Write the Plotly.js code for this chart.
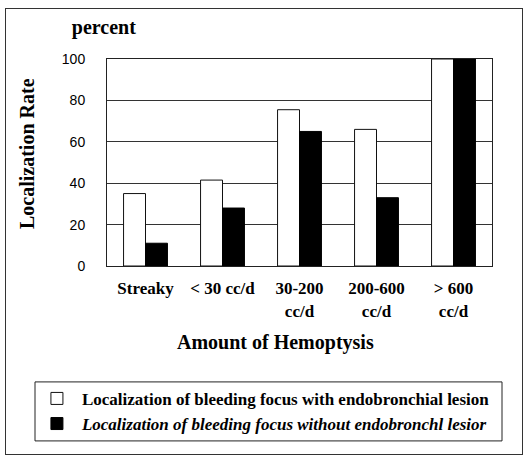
<!DOCTYPE html>
<html>
<head>
<meta charset="utf-8">
<script src="https://cdn.plot.ly/plotly-3.0.1.min.js"></script>
<style>
html,body{margin:0;padding:0;background:#fff;}
#wrap{position:relative;width:528px;height:458px;}
#chart{width:528px;height:458px;}
#frame{position:absolute;left:5px;top:8px;width:516px;height:445px;border:1px solid #333;pointer-events:none;}
</style>
</head>
<body>
<div id="wrap"><div id="chart"></div><div id="frame"></div></div>
<script>
const categories = ["Streaky", "< 30 cc/d", "30-200<br>cc/d", "200-600<br>cc/d", "> 600<br>cc/d"];
const withLesion = [35, 41.5, 75.5, 66, 100];
const withoutLesion = [11, 28, 65, 33, 100];
const seriesNames = [
  "Localization of bleeding focus with endobronchial lesion",
  "<i>Localization of bleeding focus without endobronchl lesior</i>"
];
const yTicks = [0, 20, 40, 60, 80, 100];

const serif = "'Liberation Serif', 'Times New Roman', serif";
const sans = "'Liberation Sans', Arial, sans-serif";

const traces = [
  {type: "bar", x: categories, y: withLesion, name: seriesNames[0],
   marker: {color: "#ffffff", line: {color: "#111", width: 1}}},
  {type: "bar", x: categories, y: withoutLesion, name: seriesNames[1],
   marker: {color: "#000000", line: {color: "#000", width: 1}}}
];

const layout = {
  width: 528, height: 458,
  margin: {l: 107, r: 36, t: 59, b: 192},
  paper_bgcolor: "#fff", plot_bgcolor: "#fff",
  barmode: "group", bargap: 0.43, bargroupgap: 0,
  showlegend: true,
  title: {text: "<b>percent</b>", x: 0.136, xanchor: "left", y: 0.942, yanchor: "middle",
          font: {family: serif, size: 20, color: "#000"}},
  xaxis: {
    tickfont: {family: serif, size: 17, color: "#000", weight: "bold"},
    showline: true, linecolor: "#222", linewidth: 1, mirror: true,
    ticks: "", ticklabelstandoff: 7
  },
  yaxis: {
    range: [0, 100], tickvals: yTicks, ticktext: yTicks.map(String),
    tickfont: {family: sans, size: 14, color: "#000"},
    showgrid: true, gridcolor: "#333", gridwidth: 1,
    zeroline: false,
    showline: true, linecolor: "#222", linewidth: 1, mirror: true,
    ticks: "", ticklabelstandoff: 18
  },
  legend: {
    x: -0.195, y: -0.555, xanchor: "left", yanchor: "top",
    bgcolor: "rgba(0,0,0,0)", borderwidth: 0,
    font: {family: serif, size: 17, color: "#000", weight: "bold"},
    itemwidth: 40, tracegroupgap: 0
  },
  annotations: [
    {text: "<b>Amount of Hemoptysis</b>", xref: "paper", yref: "paper",
     x: (275.5 - 107) / 385, y: (266 - 342) / 207, xanchor: "center", yanchor: "middle",
     showarrow: false, font: {family: serif, size: 20, color: "#000"}},
    {text: "<b>Localization Rate</b>", xref: "paper", yref: "paper", textangle: -90,
     x: (27 - 107) / 385, y: (266 - 154) / 207, xanchor: "center", yanchor: "middle",
     showarrow: false, font: {family: serif, size: 20, color: "#000"}}
  ],
  shapes: [
    {type: "rect", xref: "paper", yref: "paper", x0: -0.187, x1: 1.026, y0: -0.845, y1: -0.56,
     line: {color: "#222", width: 1}, fillcolor: "rgba(0,0,0,0)"}
  ]
};

Plotly.newPlot("chart", traces, layout, {displayModeBar: false, staticPlot: true});
</script>
</body>
</html>
